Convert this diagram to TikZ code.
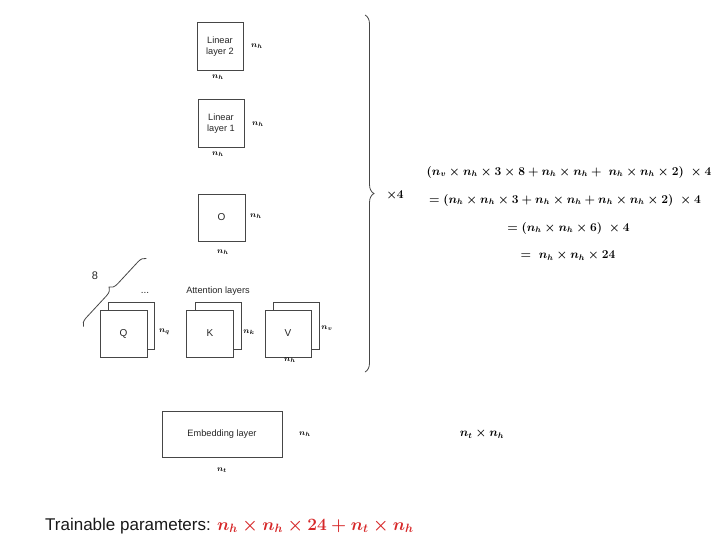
\documentclass[tikz,border=0pt]{standalone}
\usepackage{fontspec}
\setsansfont{Liberation Sans}
\usepackage{amsmath}
\usetikzlibrary{decorations.pathreplacing}
\definecolor{eqred}{RGB}{214,39,40}
\definecolor{edge}{RGB}{70,70,70}
\begin{document}
\begin{tikzpicture}[x=1pt,y=-1pt,
 layer/.style={draw=edge, line width=0.8pt, fill=white, minimum width=46pt, minimum height=48pt, inner sep=0pt, align=center, font=\sffamily\fontsize{9.2}{10.5}\selectfont, text=black!85},
 letter/.style={font=\sffamily\fontsize{10}{11}\selectfont},
 dimlbl/.style={inner sep=0pt, font=\fontsize{8.5}{9}\selectfont\boldmath},
 eqn/.style={inner sep=0pt, font=\fontsize{12}{14}\selectfont\boldmath},
 smalltext/.style={inner sep=0pt, font=\sffamily\fontsize{9.2}{10.5}\selectfont, text=black!85},
 bracestyle/.style={draw=edge, line width=0.8pt, decorate, decoration={brace, amplitude=#1}},
]
\useasboundingbox (0,0) rectangle (720,550);

% Linear layers
\node[layer] (lin2) at (220,46.5) {Linear\\layer 2};
\node[dimlbl] (lin2r) at (257,46) {$n_h$};
\node[dimlbl] (lin2b) at (218,77) {$n_h$};
\node[layer] (lin1) at (221,123.5) {Linear\\layer 1};
\node[dimlbl] (lin1r) at (258,124) {$n_h$};
\node[dimlbl] (lin1b) at (218,154) {$n_h$};

% O
\node[layer, letter, minimum width=47pt, minimum height=47pt] (o) at (221.5,217.5) {O};
\node[dimlbl] (or) at (256,216) {$n_h$};
\node[dimlbl] (ob) at (223,252) {$n_h$};

% Attention layers
\node[smalltext] (attn) at (218,291) {Attention layers};
\node[layer, minimum height=47pt] (qb) at (131,325.5) {};
\node[layer, letter, minimum width=47pt, minimum height=47pt] (q) at (123.5,333.5) {Q};
\node[dimlbl] (qr) at (164.5,332) {$n_q$};
\node[smalltext, font=\sffamily\fontsize{10}{11}\selectfont] (dots) at (145,293) {...};
\node[inner sep=0pt, font=\sffamily\fontsize{11}{12}\selectfont, text=black!85] (eight) at (95,276) {8};
\coordinate (b8s) at (83.5,326.5);
\coordinate (b8e) at (146.5,258.5);
\draw[bracestyle=8pt] (b8s) -- (b8e);

\node[layer, minimum height=47pt] (kb) at (218.3,325.7) {};
\node[layer, letter, minimum width=47pt, minimum height=47pt] (k) at (210,333.5) {K};
\node[dimlbl] (kr) at (249,332) {$n_k$};

\node[layer, minimum height=47pt] (vb) at (296.3,325.7) {};
\node[layer, letter, minimum height=47pt] (v) at (288,333.5) {V};
\node[dimlbl] (vr) at (327,328) {$n_v$};
\node[dimlbl] (vbl) at (290,360) {$n_h$};

% big brace
\coordinate (bigs) at (365,15);
\coordinate (bige) at (365,372);
\draw[bracestyle=9pt] (bigs) -- (bige);
\node[inner sep=0pt, font=\fontsize{12}{14}\selectfont\boldmath] (x4) at (395,195) {$\times 4$};

% equations
\node[eqn] (eq1) at (569,172) {$(n_v\times n_h\times 3\times 8+n_h\times n_h+\ n_h\times n_h\times 2)\ \times 4$};
\node[eqn] (eq2) at (565,200) {$=(n_h\times n_h\times 3+n_h\times n_h+n_h\times n_h\times 2)\ \times 4$};
\node[eqn] (eq3) at (568.5,228) {$=(n_h\times n_h\times 6)\ \times 4$};
\node[eqn] (eq4) at (568,256) {$=\ n_h\times n_h\times 24$};

% embedding
\node[layer, minimum width=120pt, minimum height=46pt] (emb) at (222,434.5) {Embedding layer};
\node[dimlbl] (embr) at (305,434) {$n_h$};
\node[dimlbl] (embb) at (222,470) {$n_t$};
\node[eqn] (embeq) at (482,434) {$n_t\times n_h$};

% trainable parameters
\node[inner sep=0pt, anchor=base west, font=\sffamily\fontsize{17}{19}\selectfont, text=black!90] (train) at (45,530)
 {Trainable parameters: {\color{eqred}\fontsize{17.4}{19}\selectfont\boldmath$n_h\times n_h\times 24+n_t\times n_h$}};
\end{tikzpicture}
\end{document}
